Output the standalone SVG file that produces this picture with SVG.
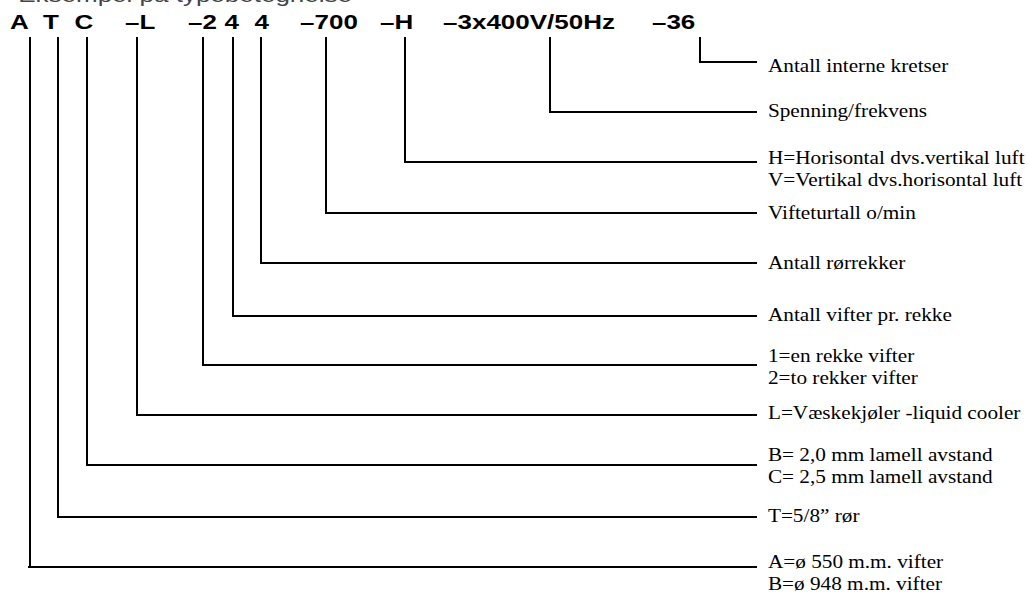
<svg xmlns="http://www.w3.org/2000/svg" width="1028" height="592" viewBox="0 0 1028 592">
<style>
.code{font-family:"Liberation Sans",Arial,sans-serif;font-weight:bold;font-size:20px;fill:#000}
.head{font-family:"Liberation Sans",Arial,sans-serif;font-size:20px;fill:#444}
.lbl{font-family:"Liberation Serif","Times New Roman",serif;font-size:18px;fill:#000}
.ln{stroke:#000;stroke-width:2;fill:none}
</style>
<rect width="1028" height="592" fill="#fff"/>
<g id="heading" transform="scale(1.3,1)">
<text class="head" x="14" y="1.5">Eksempel på typebetegnelse</text>
</g>
<g id="code" transform="scale(1.3,1)">
<text class="code" x="7.7" y="29">A</text>
<text class="code" x="33.1" y="29">T</text>
<text class="code" x="57.3" y="29">C</text>
<text class="code" x="96.2" y="29">–L</text>
<text class="code" x="144.6" y="29">–2</text>
<text class="code" x="172.7" y="29">4</text>
<text class="code" x="195.8" y="29">4</text>
<text class="code" x="230.8" y="29">–700</text>
<text class="code" x="292.3" y="29">–H</text>
<text class="code" x="340.8" y="29">–3x400V/50Hz</text>
<text class="code" x="501.5" y="29">–36</text>
</g>
<g id="connectors">
<path class="ln" d="M700,37 V62 H757"/>
<path class="ln" d="M550,37 V112 H757"/>
<path class="ln" d="M405,37 V162 H757"/>
<path class="ln" d="M326,37 V213 H757"/>
<path class="ln" d="M261,37 V263 H757"/>
<path class="ln" d="M233,37 V316 H757"/>
<path class="ln" d="M203,37 V365 H757"/>
<path class="ln" d="M137,37 V415 H757"/>
<path class="ln" d="M87,37 V465 H757"/>
<path class="ln" d="M58,37 V517 H757"/>
<path class="ln" d="M30,37 V567 M28,567 H757"/>
</g>
<g id="labels" transform="scale(1.18,1)">
<g id="n36"><text class="lbl" x="650.8" y="72">Antall interne kretser</text></g>
<g id="nvolt"><text class="lbl" x="650.8" y="117">Spenning/frekvens</text></g>
<g id="nH"><text class="lbl" x="650.8" y="164">H=Horisontal dvs.vertikal luft</text><text class="lbl" x="650.8" y="186">V=Vertikal dvs.horisontal luft</text></g>
<g id="n700"><text class="lbl" x="650.8" y="219">Vifteturtall o/min</text></g>
<g id="n4b"><text class="lbl" x="650.8" y="269">Antall rørrekker</text></g>
<g id="n4a"><text class="lbl" x="650.8" y="321">Antall vifter pr. rekke</text></g>
<g id="n2"><text class="lbl" x="650.8" y="362">1=en rekke vifter</text><text class="lbl" x="650.8" y="384">2=to rekker vifter</text></g>
<g id="nL"><text class="lbl" x="650.8" y="419">L=Væskekjøler -liquid cooler</text></g>
<g id="nC"><text class="lbl" x="650.8" y="461">B= 2,0 mm lamell avstand</text><text class="lbl" x="650.8" y="483">C= 2,5 mm lamell avstand</text></g>
<g id="nT"><text class="lbl" x="650.8" y="522">T=5/8” rør</text></g>
<g id="nA"><text class="lbl" x="650.8" y="568">A=ø 550 m.m. vifter</text><text class="lbl" x="650.8" y="590">B=ø 948 m.m. vifter</text></g>
</g>
</svg>
